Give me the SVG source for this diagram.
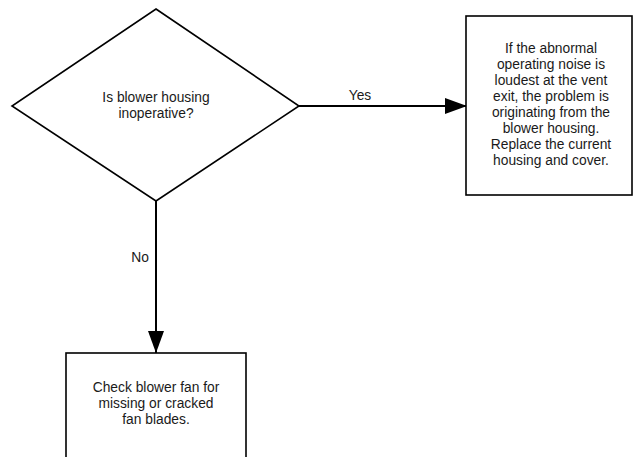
<svg xmlns="http://www.w3.org/2000/svg" width="634" height="457" viewBox="0 0 634 457">
<style>
.shape{fill:#fff;stroke:#000;stroke-width:1.6}
.edge{fill:none;stroke:#000;stroke-width:2}
text{font-family:"Liberation Sans",Arial,sans-serif;font-size:13.8px;fill:#1a1a1a;text-anchor:middle}
</style>
<defs>
<marker id="arr" markerUnits="userSpaceOnUse" markerWidth="22" markerHeight="16" refX="22" refY="8" orient="auto">
<path d="M0,0 L22,8 L0,16 Z" fill="#000"/>
</marker>
</defs>
<rect width="634" height="457" fill="#fff"/>
<g id="edges">
<path class="edge" d="M299,106 H467" marker-end="url(#arr)"/>
<text x="360" y="100">Yes</text>
<path class="edge" d="M156,201 V353" marker-end="url(#arr)"/>
<text x="140" y="262">No</text>
</g>
<g id="decision">
<polygon class="shape" points="156,9 299,106 156,201 12,106"/>
<text x="156" y="102">Is blower housing</text>
<text x="156" y="118">inoperative?</text>
</g>
<g id="replace">
<rect class="shape" x="466" y="16" width="166" height="179" stroke-width="2"/>
<text x="551" y="53">If the abnormal</text>
<text x="551" y="69">operating noise is</text>
<text x="551" y="85">loudest at the vent</text>
<text x="551" y="101">exit, the problem is</text>
<text x="551" y="117">originating from the</text>
<text x="551" y="133">blower housing.</text>
<text x="551" y="149">Replace the current</text>
<text x="551" y="165">housing and cover.</text>
</g>
<g id="check">
<rect class="shape" x="66" y="353" width="180" height="120" stroke-width="2"/>
<text x="156" y="392">Check blower fan for</text>
<text x="156" y="408">missing or cracked</text>
<text x="156" y="424">fan blades.</text>
</g>
</svg>
